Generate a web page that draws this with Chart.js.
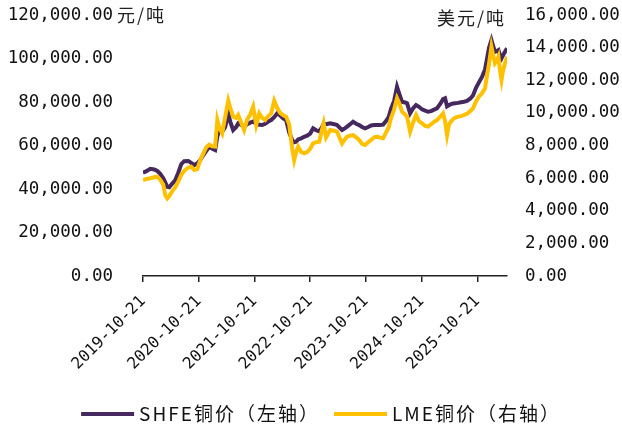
<!DOCTYPE html>
<html>
<head>
<meta charset="utf-8">
<script src="https://cdn.jsdelivr.net/npm/chart.js@4.4.1/dist/chart.umd.min.js"></script>
<style>
  html, body { margin: 0; padding: 0; background: #fff; }
  #wrap { width: 622px; height: 430px; }
</style>
</head>
<body>
<div id="wrap"><canvas id="copperChart" width="622" height="430"></canvas></div>
<script>
// values
const dates = [
  "2019-10-21", "2019-11-12", "2019-12-08", "2020-01-03", "2020-01-23", "2020-02-11", "2020-03-02", "2020-03-15",
  "2020-03-28", "2020-04-10", "2020-04-30", "2020-05-20", "2020-06-08", "2020-06-28", "2020-07-17", "2020-08-13",
  "2020-09-01", "2020-09-21", "2020-10-11", "2020-10-30", "2020-11-19", "2020-12-09", "2020-12-28", "2021-01-17",
  "2021-02-05", "2021-02-19", "2021-03-04", "2021-03-23", "2021-04-12", "2021-05-02", "2021-05-15", "2021-06-03",
  "2021-06-23", "2021-07-06", "2021-07-26", "2021-08-14", "2021-09-03", "2021-09-23", "2021-10-12", "2021-11-01",
  "2021-11-21", "2021-12-10", "2021-12-30", "2022-01-19", "2022-02-07", "2022-02-27", "2022-03-19", "2022-04-07",
  "2022-04-27", "2022-05-16", "2022-06-05", "2022-06-25", "2022-07-08", "2022-07-21", "2022-08-03", "2022-08-23",
  "2022-09-11", "2022-10-01", "2022-10-21", "2022-11-09", "2022-11-29", "2022-12-19", "2023-01-07", "2023-01-17",
  "2023-02-02", "2023-03-01", "2023-03-27", "2023-04-15", "2023-05-05", "2023-05-18", "2023-06-07", "2023-06-20",
  "2023-07-10", "2023-07-29", "2023-08-18", "2023-09-07", "2023-09-26", "2023-10-16", "2023-11-05", "2023-11-24",
  "2023-12-14", "2024-01-02", "2024-01-22", "2024-02-11", "2024-03-01", "2024-03-18", "2024-04-03", "2024-04-23",
  "2024-05-12", "2024-05-26", "2024-06-14", "2024-07-04", "2024-07-17", "2024-08-06", "2024-08-25", "2024-09-14",
  "2024-10-03", "2024-10-23", "2024-11-12", "2024-12-01", "2024-12-21", "2025-01-10", "2025-01-29", "2025-02-18",
  "2025-03-10", "2025-03-23", "2025-04-05", "2025-04-18", "2025-05-08", "2025-05-27", "2025-06-16", "2025-07-06",
  "2025-07-25", "2025-08-14", "2025-09-03", "2025-09-22", "2025-10-12", "2025-10-31", "2025-11-20", "2025-12-10",
  "2025-12-23", "2026-01-05", "2026-01-21", "2026-01-31", "2026-02-13", "2026-02-26", "2026-03-08", "2026-03-18",
  "2026-03-28", "2026-04-07", "2026-04-20", "2026-05-03"
];

// SHFE copper, yuan/ton (left axis)
const shfePrice = [
  47500, 48200, 49300, 49000, 48300, 47000, 44900, 43000,
  41000, 40800, 42500, 44100, 47500, 51500, 52800, 52900,
  52000, 51000, 51800, 53300, 55500, 57500, 59400, 58500,
  57900, 64000, 67100, 66300, 68500, 74800, 71000, 67100,
  68500, 70200, 69500, 68700, 69800, 70500, 71000, 70000,
  69500, 69400, 70000, 71000, 71700, 73000, 74800, 73800,
  72500, 71700, 66000, 62500, 61500, 61700, 62800, 63300,
  64000, 64500, 65500, 67900, 67000, 66500, 68500, 70000,
  69800, 70200, 69800, 69400, 68000, 67100, 68000, 68700,
  69800, 70900, 70000, 69400, 68500, 67900, 68500, 69200,
  69400, 69400, 69400, 69600, 71200, 73000, 77000, 80500,
  87000, 84000, 80100, 79800, 79400, 74800, 77000, 78600,
  77800, 76600, 76000, 75500, 75800, 76500, 77100, 79000,
  81300, 81700, 78000, 78600, 79200, 79400, 79600, 79900,
  80100, 80500, 81500, 83000, 86500, 89000, 91500, 95000,
  100000, 105000, 108500, 106000, 103100, 103500, 103900, 101500,
  100100, 101500, 103100, 104700
];

// LME copper, dollars/ton (right axis)
const lmePrice = [
  5880, 5950, 5990, 6050, 6090, 5900, 5600, 4950,
  4760, 4900, 5200, 5450, 5780, 6200, 6450, 6650,
  6700, 6500, 6550, 7100, 7500, 7900, 8050, 7950,
  7930, 9560, 9100, 8750, 9770, 10750, 10300, 9770,
  9700, 9870, 9400, 8950, 9600, 9900, 10380, 9260,
  9970, 9700, 9560, 9800, 9970, 10750, 10300, 10000,
  9850, 9770, 9300, 7800, 7110, 7600, 7930, 7600,
  7520, 7600, 7800, 8130, 8200, 8230, 9000, 9360,
  8500, 8950, 8900, 8850, 8400, 8130, 8400, 8540,
  8600, 8640, 8500, 8340, 8100, 8030, 8200, 8340,
  8500, 8540, 8480, 8440, 8800, 9100, 9700, 10200,
  10890, 10600, 10070, 9900, 9770, 8850, 9400, 9870,
  9500, 9360, 9200, 9160, 9300, 9450, 9560, 9750,
  9970, 9500, 8640, 9300, 9560, 9700, 9770, 9800,
  9870, 9950, 10100, 10280, 10700, 11000, 11200, 11500,
  12300, 13000, 14060, 13600, 13040, 13200, 13440, 12600,
  12020, 12600, 13040, 13440
];

const tickLabels = ["2019-10-21", "2020-10-21", "2021-10-21", "2022-10-21", "2023-10-21", "2024-10-21", "2025-10-21"];

const startDay = Date.parse(dates[0]);
const dayOf = s => (Date.parse(s) - startDay) / 86400000;
const tickDays = tickLabels.map(dayOf);

const fmt = new Intl.NumberFormat("en-US", { minimumFractionDigits: 2, maximumFractionDigits: 2 });
const numFont = "'DejaVu Sans Mono', monospace";
const cjkFont = "'Noto Sans CJK SC', sans-serif";

// unit captions beside the top ticks
const unitLabels = {
  id: "unitLabels",
  afterDraw(chart) {
    const ctx = chart.ctx;
    ctx.save();
    ctx.fillStyle = "#222";
    ctx.font = "18px " + cjkFont;
    ctx.letterSpacing = "2px";
    ctx.textBaseline = "middle";
    ctx.textAlign = "left";
    ctx.fillText("元/吨", 117, 15);
    ctx.textAlign = "right";
    ctx.fillText("美元/吨", 506, 18);
    ctx.restore();
  }
};

// legend drawn by hand so the spacing can follow the reference
const bottomLegend = {
  id: "bottomLegend",
  afterDraw(chart) {
    const ctx = chart.ctx;
    const items = [1, 0].map((i) => chart.data.datasets[i]);
    ctx.save();
    ctx.font = "19px " + cjkFont;
    ctx.letterSpacing = "2px";
    ctx.textBaseline = "middle";
    ctx.textAlign = "left";
    const boxW = 53, gapText = 5, gapItem = 14;
    const widths = items.map((d) => boxW + gapText + ctx.measureText(d.label).width);
    const total = widths.reduce((a, b) => a + b, 0) + gapItem;
    let x = (chart.width - total) / 2 + 10;
    const y = 414;
    items.forEach((d, k) => {
      ctx.fillStyle = d.borderColor;
      ctx.fillRect(x, y - 2, boxW, 4);
      ctx.fillStyle = "#111";
      ctx.fillText(d.label, x + boxW + gapText, y);
      x += widths[k] + gapItem;
    });
    ctx.restore();
  }
};

const ctx = document.getElementById("copperChart").getContext("2d");
new Chart(ctx, {
  type: "line",
  data: {
    datasets: [
      {
        label: "LME铜价（右轴）",
        data: dates.map((d, i) => ({ x: dayOf(d), y: lmePrice[i] })),
        borderColor: "#FFC000",
        backgroundColor: "#FFC000",
        borderWidth: 4,
        pointRadius: 0,
        tension: 0,
        yAxisID: "y1",
      },
      {
        label: "SHFE铜价（左轴）",
        data: dates.map((d, i) => ({ x: dayOf(d), y: shfePrice[i] })),
        borderColor: "#45285E",
        backgroundColor: "#45285E",
        borderWidth: 4,
        pointRadius: 0,
        tension: 0,
        yAxisID: "y",
      },
    ],
  },
  options: {
    responsive: false,
    animation: false,
    devicePixelRatio: 1,
    layout: { padding: { top: 15, left: 0, right: 0, bottom: 36 } },
    plugins: {
      tooltip: { enabled: false },
      legend: { display: false },
    },
    scales: {
      x: {
        type: "linear",
        min: 0,
        max: dayOf(dates[dates.length - 1]),
        afterBuildTicks: (axis) => {
          axis.ticks = tickDays.map((v) => ({ value: v }));
        },
        afterFit: (axis) => {
          axis.height = 118;
        },
        grid: { display: true, drawOnChartArea: false, drawTicks: true, tickLength: 6, color: "#222", lineWidth: 1.5 },
        border: { display: true, color: "#222", width: 1.5 },
        ticks: {
          autoSkip: false,
          minRotation: 45,
          maxRotation: 45,
          padding: 10,
          color: "#111",
          font: { family: numFont, size: 16 },
          callback: (v) => tickLabels[tickDays.indexOf(v)] ?? "",
        },
      },
      y: {
        position: "left",
        min: 0,
        max: 120000,
        afterFit: (axis) => {
          axis.width = 143;
          axis.paddingTop = 0;
          axis.paddingBottom = 0;
        },
        grid: { display: false },
        border: { display: false },
        ticks: {
          stepSize: 20000,
          padding: 22,
          color: "#111",
          font: { family: numFont, size: 17.5 },
          callback: (v) => fmt.format(v),
        },
      },
      y1: {
        position: "right",
        min: 0,
        max: 16000,
        afterFit: (axis) => {
          axis.width = 115;
          axis.paddingTop = 0;
          axis.paddingBottom = 0;
        },
        grid: { display: false },
        border: { display: false },
        ticks: {
          stepSize: 2000,
          padding: 10,
          color: "#111",
          font: { family: numFont, size: 17.5 },
          callback: (v) => fmt.format(v),
        },
      },
    },
  },
  plugins: [unitLabels, bottomLegend],
});
</script>
</body>
</html>
